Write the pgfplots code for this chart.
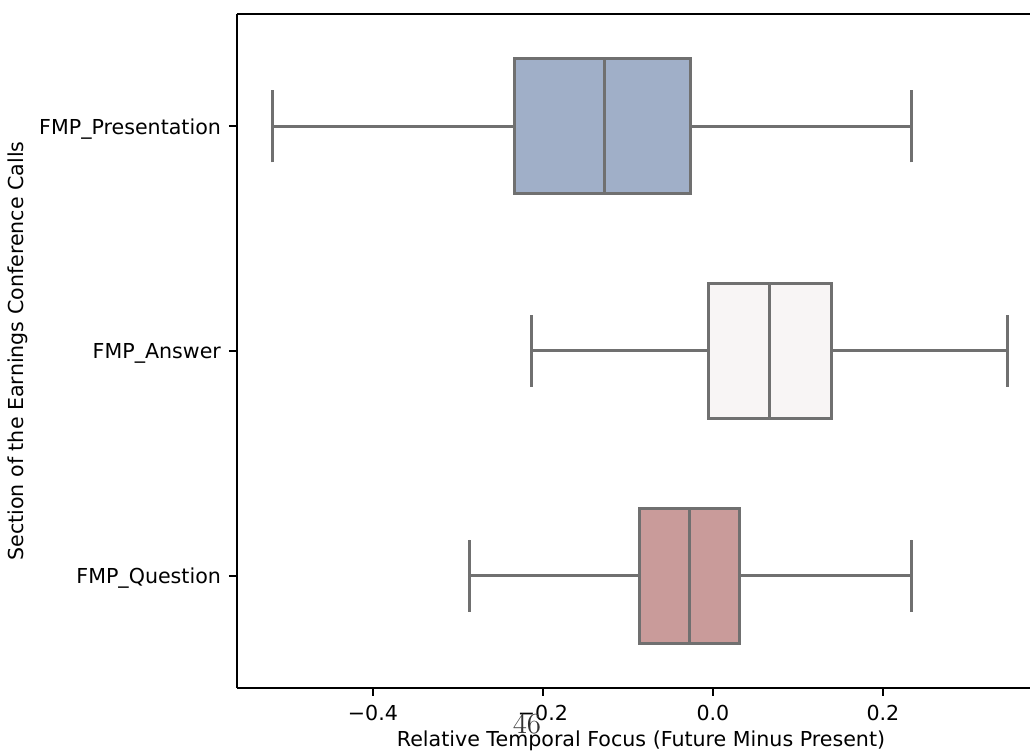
\documentclass[border=0pt]{standalone}
\usepackage{pgfplots}
\pgfplotsset{compat=1.18}
\usepgfplotslibrary{statistics}
\usepackage{fontspec}
\setmainfont{DejaVu Sans}
\definecolor{linegray}{HTML}{707070}
\definecolor{cpres}{HTML}{A0AFC8}
\definecolor{cans}{HTML}{F8F5F5}
\definecolor{cque}{HTML}{C99B9A}
\begin{document}
\begin{tikzpicture}
\begin{axis}[
  name=ax,
  at={(0,0)}, anchor=south west,
  width=396.5pt, height=337pt, scale only axis,
  xmin=-0.56, xmax=0.373,
  ymin=-0.5, ymax=2.5,
  separate axis lines,
  axis x line=box, axis y line=left,
  axis line style={-, line width=0.9pt, black},
  xtick={-0.4,-0.2,0,0.2},
  xticklabels={−0.4,−0.2,0.0,0.2},
  ytick={0,1,2},
  yticklabels={FMP\_Question,FMP\_Answer,FMP\_Presentation},
  xtick pos=bottom, ytick pos=left,
  tick align=outside,
  major tick length=4pt,
  every tick/.style={black, line width=0.9pt},
  tick label style={font=\fontsize{10.3}{12}\selectfont},
  yticklabel style={xshift=-0.5pt, yshift=-1.2pt},
  xticklabel style={yshift=-1pt},
  /pgf/number format/assume math mode=true,
  clip=false,
]
\addplot[boxplot prepared={lower whisker=-0.518, lower quartile=-0.233, median=-0.128, upper quartile=-0.027, upper whisker=0.233, draw position=2, box extend=0.6, whisker extend=0.32}, draw=linegray, fill=cpres, line width=1.5pt, solid, mark=none] coordinates {};
\addplot[boxplot prepared={lower whisker=-0.213, lower quartile=-0.005, median=0.067, upper quartile=0.140, upper whisker=0.347, draw position=1, box extend=0.6, whisker extend=0.32}, draw=linegray, fill=cans, line width=1.5pt, solid, mark=none] coordinates {};
\addplot[boxplot prepared={lower whisker=-0.287, lower quartile=-0.087, median=-0.028, upper quartile=0.031, upper whisker=0.233, draw position=0, box extend=0.6, whisker extend=0.32}, draw=linegray, fill=cque, line width=1.5pt, solid, mark=none] coordinates {};
\end{axis}
\node[rotate=90, font=\fontsize{10.3}{12}\selectfont] at ([xshift=-109.5pt]ax.west) {Section of the Earnings Conference Calls};
\node[anchor=base, font=\fontsize{10.3}{12}\selectfont, inner sep=0pt] at ([xshift=202pt, yshift=-29.5pt]ax.south west) {Relative Temporal Focus (Future Minus Present)};
\node[anchor=base, font=\fontfamily{lmr}\fontsize{14.5}{16}\selectfont, text=black!80, inner sep=0pt] at ([xshift=145pt, yshift=-23pt]ax.south west) {46};
\pgfresetboundingbox
\path ([xshift=-118.5pt,yshift=-31.5pt]ax.south west) rectangle ([yshift=7pt]ax.north east);
\end{tikzpicture}
\end{document}
